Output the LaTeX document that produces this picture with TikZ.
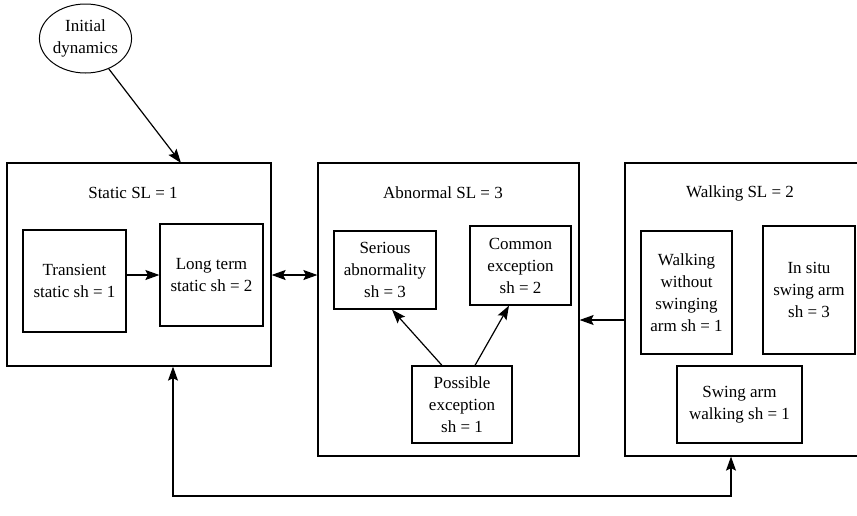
\documentclass[tikz,border=0pt]{standalone}
\usepackage{fontspec}
\setmainfont{Liberation Serif}
\usepackage{tikz}
\usetikzlibrary{shapes.geometric, arrows.meta}
\tikzstyle{state} = [rectangle, draw=black, line width=1.2pt, align=center, inner sep=0pt]
\tikzstyle{substate} = [rectangle, draw=black, line width=1.2pt, align=center, inner sep=0pt]
\tikzstyle{start} = [ellipse, draw=black, line width=1pt, align=center, inner sep=0pt, minimum width=85pt, minimum height=69pt]
\tikzstyle{title} = [rectangle, text centered]
\tikzstyle{arrow} = [line width=1.2pt,->,>={Stealth[length=14pt,width=10pt,inset=2.5pt]}]

\begin{document}
\begin{tikzpicture}[x=1pt, y=-1pt, font=\fontsize{17}{22}\selectfont]
				\useasboundingbox (0,0) rectangle (857,515);

				\node (init) [start] at (85.5,38.5) {Initial\\dynamics};

				\node (static) [state, minimum width=264pt, minimum height=203pt] at (139,264.5) {};
				\node (abnormal) [state, minimum width=261pt, minimum height=293pt] at (448.5,309.5) {};
				\node (walking) [state, minimum width=237pt, minimum height=293pt] at (743.5,309.5) {};

				\node (statictitle) [title] at (133,193) {Static SL = 1};
				\node (abnormaltitle) [title] at (443,193) {Abnormal SL = 3};
				\node (walkingtitle) [title] at (740,193) {Walking SL = 2};

				\node (transient) [substate, minimum width=103pt, minimum height=102pt] at (74.5,281) {Transient\\static sh = 1};
				\node (longterm) [substate, minimum width=103pt, minimum height=102pt] at (211.5,275) {Long term\\static sh = 2};

				\node (serious) [substate, minimum width=102pt, minimum height=78pt] at (385,270) {Serious\\abnormality\\sh = 3};
				\node (common) [substate, minimum width=101pt, minimum height=79pt] at (520.5,265.5) {Common\\exception\\sh = 2};
				\node (possible) [substate, minimum width=100pt, minimum height=77pt] at (462,404.5) {Possible\\exception\\sh = 1};

				\node (walkno) [substate, minimum width=91pt, minimum height=123pt] at (686.5,292.5) {Walking\\without\\swinging\\arm sh = 1};
				\node (insitu) [substate, minimum width=92pt, minimum height=128pt] at (809,290) {In situ\\swing arm\\sh = 3};
				\node (swing) [substate, minimum width=125pt, minimum height=77pt] at (739.5,404.5) {Swing arm\\walking sh = 1};

				\coordinate (entry) at (181,163);
				\coordinate (loopl) at (173,496);
				\coordinate (loopr) at (731,496);

				\draw [arrow] (init) -- (entry);
				\draw [arrow] (transient.east |- longterm) -- (longterm.west);
				\draw [arrow,<->] (static.east |- longterm) -- (abnormal.west |- longterm);
				\draw [arrow] ([yshift=-10.5pt]walking.west) -- ([yshift=-10.5pt]abnormal.east);
				\draw [arrow] ([xshift=-20pt]possible.north) -- ([xshift=7pt]serious.south);
				\draw [arrow] ([xshift=13pt]possible.north) -- ([xshift=-11.5pt]common.south);
				\draw [arrow,<->] (static.south -| loopl) -- (loopl) -- (loopr) -- (walking.south -| loopr);

			\end{tikzpicture}
\end{document}
